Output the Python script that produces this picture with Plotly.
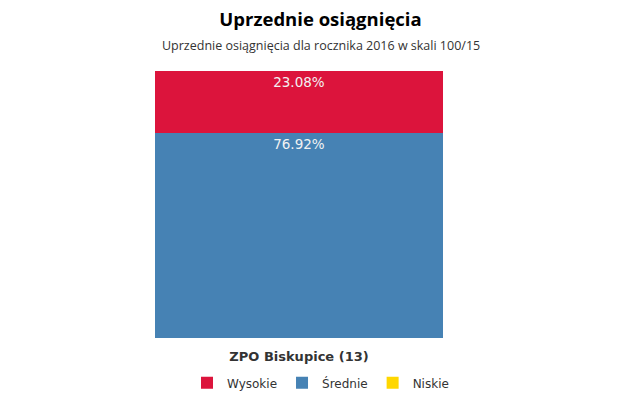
import plotly.graph_objects as go

categories = ["ZPO Biskupice (13)"]
series_names = ["Niskie", "Średnie", "Wysokie"]
niskie = [0.0]
srednie = [76.92]
wysokie = [23.08]
colors = {"Niskie": "#FFD700", "Średnie": "#4682B4", "Wysokie": "#DC143C"}

fig = go.Figure()
for name, vals in zip(series_names, [niskie, srednie, wysokie]):
    fig.add_trace(go.Bar(
        x=categories, y=vals, name=name,
        marker=dict(color=colors[name], line=dict(width=0)),
        text=[f"{v:.2f}%" if v > 0 else "" for v in vals],
        textposition="inside", insidetextanchor="end",
        textfont=dict(family="DejaVu Sans", size=13.5, color="#f2f2f2"),
        width=1.0,
    ))

fig.update_layout(
    barmode="stack",
    width=641, height=409,
    margin=dict(l=155, r=198, t=71, b=71, autoexpand=False),
    plot_bgcolor="white", paper_bgcolor="white",
    title=dict(
        text="<b>Uprzednie osiągnięcia</b>",
        x=0.5, xref="container", xanchor="center",
        y=0.953, yref="container", yanchor="middle",
        font=dict(family="Open Sans", size=18.5, color="#000000"),
    ),
    legend=dict(orientation="h", traceorder="reversed", x=0.5, xref="container",
                xanchor="center", y=0.064, yref="container", yanchor="middle",
                font=dict(family="DejaVu Sans", size=12, color="#333333")),
    showlegend=True,
)
fig.add_annotation(
    text="Uprzednie osiągnięcia dla rocznika 2016 w skali 100/15",
    xref="paper", yref="paper", x=(320.5 - 155) / (641 - 155 - 198), y=1.0, yshift=26,
    xanchor="center", yanchor="middle", showarrow=False,
    font=dict(family="Open Sans", size=12.5, color="#333333"),
)
fig.update_xaxes(range=[-0.5, 0.5], showgrid=False, showline=False, automargin=False,
                 ticks="outside", ticklen=6, tickcolor="rgba(0,0,0,0)",
                 tickfont=dict(family="DejaVu Sans", size=13, color="#333333"),
                 tickprefix="<b>", ticksuffix="</b>")
fig.update_yaxes(range=[0, 100], showgrid=False, showticklabels=False, automargin=False,
                 zeroline=False, showline=False)

fig.write_html("out.html")
